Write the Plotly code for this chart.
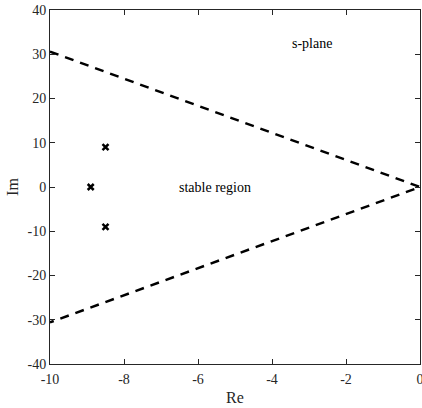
import plotly.graph_objects as go

pole_re = [-8.5, -8.9, -8.5]
pole_im = [9, 0, -9]
bound_re = [-10, 0, -10]
bound_im = [30.6, 0, -30.6]
x_ticks = [-10, -8, -6, -4, -2, 0]
y_ticks = [-40, -30, -20, -10, 0, 10, 20, 30, 40]

FONT = "Liberation Serif"

fig = go.Figure()
fig.add_trace(go.Scatter(x=bound_re, y=bound_im, mode="lines",
                         line=dict(color="black", width=2.5, dash="9px,7px"),
                         showlegend=False, hoverinfo="skip"))
fig.add_trace(go.Scatter(x=pole_re, y=pole_im, mode="markers",
                         marker=dict(symbol="x-thin", size=6, color="black",
                                     line=dict(width=2.5, color="black")),
                         showlegend=False))
fig.add_annotation(x=-2.92, y=32.5, text="s-plane", showarrow=False,
                   font=dict(family=FONT, size=14, color="black"))
fig.add_annotation(x=-5.54, y=0, text="stable region", showarrow=False,
                   font=dict(family=FONT, size=14, color="black"))

axis_common = dict(showgrid=False, zeroline=False, showline=True, mirror="ticks",
                   linecolor="#262626", linewidth=1, ticks="inside", ticklen=5,
                   tickcolor="#262626", automargin=False, ticklabeloverflow="allow",
                   tickfont=dict(family=FONT, size=14, color="#262626"))
fig.update_xaxes(range=[-10, 0], tickvals=x_ticks, ticktext=[str(v) for v in x_ticks],
                 ticklabelstandoff=2,
                 title=dict(text="Re", font=dict(family=FONT, size=16, color="#262626"), standoff=6),
                 **axis_common)
fig.update_yaxes(range=[-40, 40], tickvals=y_ticks, ticktext=[str(v) for v in y_ticks],
                 title=dict(text="Im", font=dict(family=FONT, size=16, color="#262626"), standoff=4),
                 **axis_common)
fig.update_layout(width=422, height=408, plot_bgcolor="white", paper_bgcolor="white",
                  font=dict(family=FONT),
                  margin=dict(l=50, r=2, t=10, b=44))
fig.write_html("out.html", config={"displayModeBar": False},
               post_script="document.body.style.margin='0';document.body.style.overflow='hidden';")
